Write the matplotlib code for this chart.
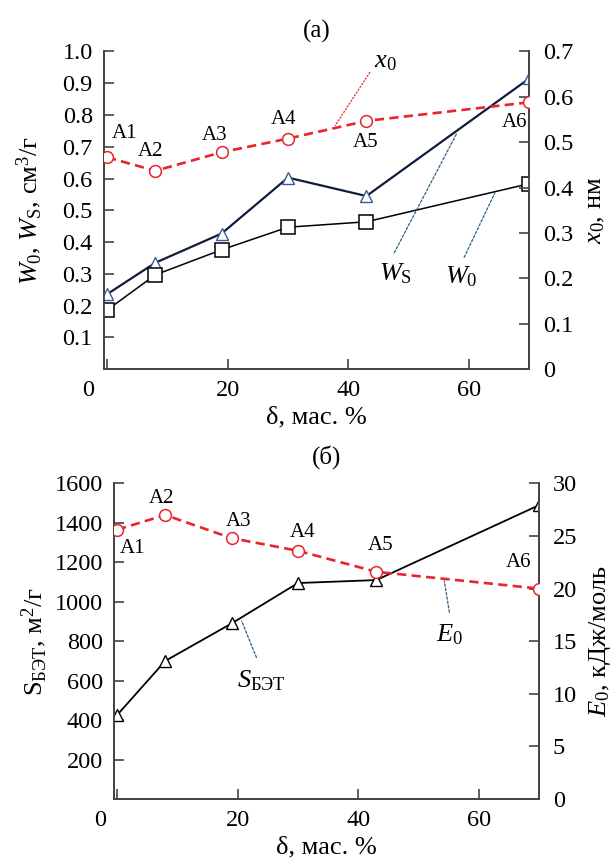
import matplotlib
matplotlib.use('Agg')
import matplotlib.pyplot as plt
from matplotlib.transforms import ScaledTranslation

plt.rcParams['font.family'] = 'Liberation Serif'
plt.rcParams['mathtext.fontset'] = 'custom'
plt.rcParams['mathtext.rm'] = 'Liberation Serif'
plt.rcParams['mathtext.it'] = 'Liberation Serif:italic'
plt.rcParams['font.size'] = 17

# data
samples = ['A1', 'A2', 'A3', 'A4', 'A5', 'A6']
delta = [0, 8, 19, 30, 43, 70]

# (a)
w0 = [0.186, 0.297, 0.376, 0.447, 0.464, 0.584]
ws = [0.236, 0.335, 0.427, 0.603, 0.545, 0.915]
x0 = [0.467, 0.437, 0.478, 0.508, 0.547, 0.588]

# (б)
s_bet = [425, 700, 890, 1095, 1110, 1490]
e0 = [25.6, 27.0, 24.8, 23.6, 21.6, 20.0]

# label positions in left-axis data units
labels_a = [(2.9, 0.742), (7.2, 0.684), (17.9, 0.734), (29.3, 0.785), (42.9, 0.713), (67.6, 0.777)]
labels_b = [(2.6, 1270), (7.4, 1523), (20.1, 1409), (30.7, 1353), (43.8, 1285), (66.6, 1197)]

red = '#e8242c'
navy = '#101c3c'
tri_blue = '#3a5a9c'
spine_col = '#444444'
leader = '#2f5f7f'
tick_fs = 17.5
label_fs = 19


def style_axes(ax, side):
    ax.spines['top'].set_visible(False)
    for s in ax.spines.values():
        s.set_color(spine_col)
        s.set_linewidth(1.3)
    ax.tick_params(direction='in', length=7, width=1.2, color=spine_col, labelsize=tick_fs)
    if side == 'left':
        ax.tick_params(axis='y', pad=8)
        ax.tick_params(axis='x', pad=8)
    else:
        ax.tick_params(axis='y', pad=10)


def shift_zero_label(fig, ax, dx):
    fig.canvas.draw()
    lbl = ax.get_xticklabels()[0]
    lbl.set_transform(lbl.get_transform() + ScaledTranslation(dx, 0, fig.dpi_scale_trans))


fig = plt.figure(figsize=(6.16, 8.63), dpi=100)

# ---------- (a) ----------
ax1 = fig.add_axes([0.1688, 0.5721, 0.6904, 0.3683])
ax1.plot(delta, ws, color=navy, lw=1.6, marker='^', ms=9, mfc='white', mec=tri_blue, mew=1.0, zorder=3)
ax1.plot(delta, w0, color='black', lw=1.1, marker='s', ms=9.5, mfc='white', mec='black', mew=1.1, zorder=3)
ax1.set_xlim(-0.5, 70)
ax1.set_ylim(0, 1.0)
ax1.set_yticks([0.1, 0.2, 0.3, 0.4, 0.5, 0.6, 0.7, 0.8, 0.9, 1.0])
ax1.set_yticklabels(['0.1', '0.2', '0.3', '0.4', '0.5', '0.6', '0.7', '0.8', '0.9', '1.0'])
ax1.set_xticks([0, 20, 40, 60])
ax1.set_xlabel('δ, мас. %', fontsize=label_fs, labelpad=4)
ax1.set_ylabel(r'$W_0$, $W_\mathrm{S}$, см$^3$/г', fontsize=label_fs, labelpad=13)
ax1.set_title('(a)', fontsize=18, pad=10)
style_axes(ax1, 'left')

ax1r = ax1.twinx()
ax1r.plot(delta, x0, color=red, lw=1.9, ls=(0, (3.5, 2)), marker='o', ms=8.5, mfc='white', mec=red, mew=1.1, zorder=3)
ax1r.set_ylim(0, 0.7)
ax1r.set_yticks([0, 0.1, 0.2, 0.3, 0.4, 0.5, 0.6, 0.7])
ax1r.set_yticklabels(['0', '0.1', '0.2', '0.3', '0.4', '0.5', '0.6', '0.7'])
ax1r.set_ylabel(r'$x_0$, нм', fontsize=label_fs, labelpad=8)
style_axes(ax1r, 'right')

for name, (tx, ty) in zip(samples, labels_a):
    ax1.text(tx, ty, name, ha='center', va='center', fontsize=15)

ax1.text(46.2, 0.968, r'$x_0$', ha='center', va='center', fontsize=19)
ax1.annotate('', xy=(37.6, 0.76), xytext=(43.8, 0.941),
             arrowprops=dict(arrowstyle='-', ls=':', color=red, lw=0.9))
ax1.text(47.8, 0.30, r'$W_\mathrm{S}$', ha='center', va='center', fontsize=19)
ax1.annotate('', xy=(58.2, 0.75), xytext=(47.4, 0.359),
             arrowprops=dict(arrowstyle='-', ls=(0, (2, 1.5)), color=leader, lw=0.9))
ax1.text(58.8, 0.29, r'$W_0$', ha='center', va='center', fontsize=19)
ax1.annotate('', xy=(64.5, 0.563), xytext=(59.0, 0.344),
             arrowprops=dict(arrowstyle='-', ls=(0, (2, 1.5)), color=leader, lw=0.9))

# ---------- (б) ----------
ax2 = fig.add_axes([0.1851, 0.0742, 0.69, 0.3656])
ax2.plot(delta, s_bet, color='black', lw=1.3, marker='^', ms=9, mfc='white', mec='black', mew=1.0, zorder=3)
ax2.set_xlim(-0.5, 70)
ax2.set_ylim(0, 1600)
ax2.set_yticks([200, 400, 600, 800, 1000, 1200, 1400, 1600])
ax2.set_xticks([0, 20, 40, 60])
ax2.set_xlabel('δ, мас. %', fontsize=label_fs, labelpad=4)
ax2.set_ylabel(r'$\mathrm{S}_\mathrm{БЭТ}$, м$^2$/г', fontsize=label_fs, labelpad=4)
ax2.set_title('(б)', fontsize=18, pad=14)
style_axes(ax2, 'left')

ax2r = ax2.twinx()
ax2r.plot(delta, e0, color=red, lw=1.9, ls=(0, (3.5, 2)), marker='o', ms=8.5, mfc='white', mec=red, mew=1.1, zorder=3)
ax2r.set_ylim(0, 30)
ax2r.set_yticks([0, 5, 10, 15, 20, 25, 30])
ax2r.set_ylabel(r'$E_0$, кДж/моль', fontsize=label_fs, labelpad=7)
style_axes(ax2r, 'right')

for name, (tx, ty) in zip(samples, labels_b):
    ax2.text(tx, ty, name, ha='center', va='center', fontsize=15)

ax2.text(55.2, 831, r'$E_0$', ha='center', va='center', fontsize=19)
ax2.annotate('', xy=(54.2, 1120), xytext=(55.2, 933),
             arrowprops=dict(arrowstyle='-', ls=(0, (2, 1.5)), color=leader, lw=0.9))
ax2.text(23.9, 600, r'$S_\mathrm{БЭТ}$', ha='center', va='center', fontsize=19)
ax2.annotate('', xy=(20.5, 916), xytext=(23.3, 704),
             arrowprops=dict(arrowstyle='-', ls=(0, (2, 1.5)), color=leader, lw=0.9))

shift_zero_label(fig, ax1, -0.19)
shift_zero_label(fig, ax2, -0.17)

fig.savefig('out.png', dpi=100)
